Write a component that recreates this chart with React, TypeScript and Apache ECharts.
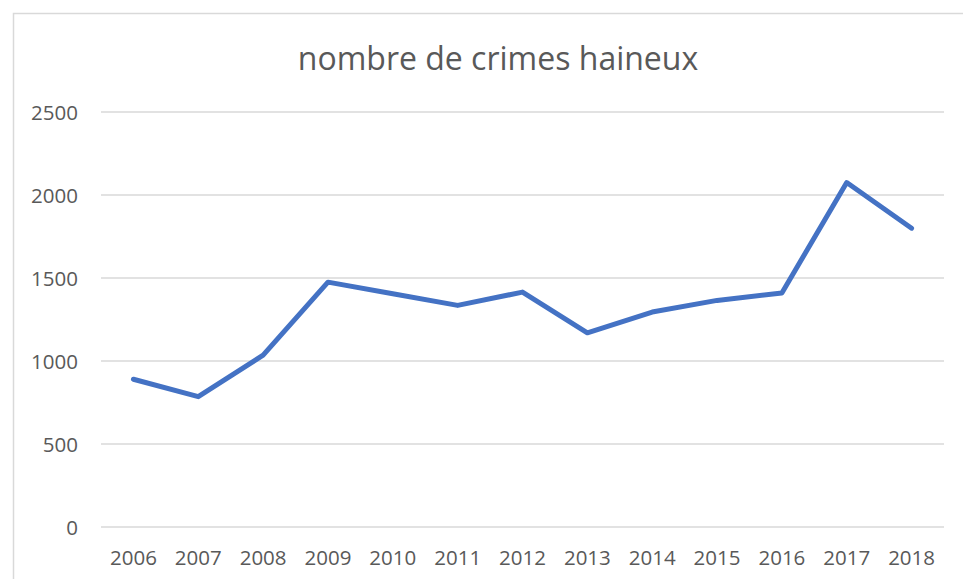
import React, { useEffect, useRef } from "react";
import * as echarts from "echarts";

const titleText = "nombre de crimes haineux";
const years = ["2006", "2007", "2008", "2009", "2010", "2011", "2012", "2013", "2014", "2015", "2016", "2017", "2018"];
const crimes = [890, 785, 1035, 1475, 1405, 1335, 1415, 1170, 1295, 1365, 1410, 2075, 1800];
const yTicks = { min: 0, max: 2500, interval: 500 };

export default function App() {
  const ref = useRef<HTMLDivElement>(null);
  useEffect(() => {
    if (!ref.current) return;
    const chart = echarts.init(ref.current, null, { renderer: "svg" });
    chart.setOption({
      animation: false,
      backgroundColor: "#ffffff",
      graphic: [
        {
          type: "rect",
          shape: { x: 13.5, y: 13.5, width: 1000, height: 1000 },
          style: { fill: "none", stroke: "#d9d9d9", lineWidth: 1.5 },
          silent: true,
          z: -1,
        },
      ],
      title: {
        text: titleText,
        left: 493,
        top: 36,
        textAlign: "center",
        textStyle: {
          fontFamily: "Open Sans",
          fontSize: 32,
          fontWeight: "normal",
          color: "#595959",
        },
      },
      grid: { left: 101, right: 19, top: 112, bottom: 52, containLabel: false },
      xAxis: {
        type: "category",
        data: years,
        boundaryGap: true,
        axisLine: { show: false },
        axisTick: { show: false },
        axisLabel: {
          fontFamily: "Open Sans",
          fontSize: 20.5,
          color: "#595959",
          margin: 19,
        },
      },
      yAxis: {
        type: "value",
        min: yTicks.min,
        max: yTicks.max,
        interval: yTicks.interval,
        axisLine: { show: false },
        axisTick: { show: false },
        splitLine: { lineStyle: { color: "#d9d9d9", width: 1.5 } },
        axisLabel: {
          fontFamily: "Open Sans",
          fontSize: 20.5,
          color: "#595959",
          margin: 23,
          formatter: (v: number) => String(v),
        },
      },
      series: [
        {
          type: "line",
          data: crimes,
          symbol: "none",
          lineStyle: { color: "#4472C4", width: 5, cap: "round", join: "round" },
        },
      ],
    });
    return () => chart.dispose();
  }, []);
  return <div ref={ref} style={{ width: 963, height: 579, position: "absolute", left: 0, top: 0 }} />;
}
